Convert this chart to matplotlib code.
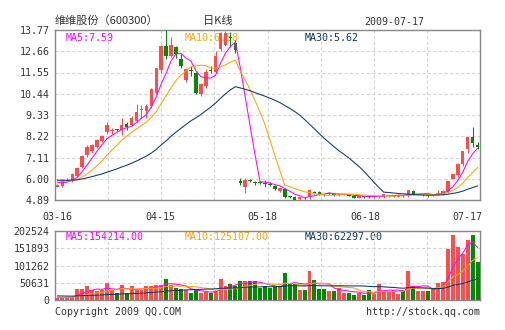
import numpy as np
import matplotlib
matplotlib.use("Agg")
import matplotlib.pyplot as plt

# daily candles 2009-03-16 .. 2009-07-17
opens = [5.57, 5.63, 5.90, 5.90, 6.12, 6.61, 7.22, 7.43, 7.68, 7.99,
         8.45, 8.50, 8.58, 8.55, 8.87, 8.80, 9.01, 9.60, 9.53, 9.79,
         10.46, 11.66, 12.94, 12.42, 12.90, 12.24, 11.14, 11.68, 11.54, 10.41,
         10.84, 11.66, 11.59, 12.77, 13.00, 13.38, 13.10, 5.90, 5.55, 5.91,
         5.83, 5.82, 5.76, 5.71, 5.61, 5.37, 5.45, 5.07, 5.06, 4.93,
         5.00, 5.03, 5.30, 5.32, 5.19, 5.18, 5.20, 5.15, 5.18, 5.20,
         5.10, 5.00, 5.06, 5.06, 5.03, 5.04, 5.03, 5.08, 5.10, 5.06,
         5.12, 5.08, 5.36, 5.18, 5.17, 5.16, 5.15, 5.18, 5.19, 5.31,
         6.00, 6.17, 6.78, 7.56, 8.20, 7.77]
highs = [5.72, 5.98, 6.03, 6.28, 6.59, 7.26, 7.75, 7.82, 8.06, 8.31,
         8.94, 8.66, 8.62, 9.18, 8.99, 9.29, 9.88, 9.85, 9.92, 10.75,
         11.80, 12.99, 13.76, 13.38, 12.94, 12.50, 11.77, 11.89, 11.56, 11.02,
         11.72, 11.89, 12.68, 13.64, 13.71, 13.68, 13.24, 6.03, 6.03, 5.97,
         5.88, 5.86, 5.91, 5.81, 5.66, 5.57, 5.50, 5.10, 5.09, 5.06,
         5.03, 5.44, 5.35, 5.35, 5.22, 5.30, 5.24, 5.22, 5.21, 5.22,
         5.12, 5.12, 5.10, 5.08, 5.12, 5.12, 5.20, 5.16, 5.14, 5.18,
         5.14, 5.42, 5.40, 5.22, 5.22, 5.20, 5.20, 5.40, 5.40, 5.90,
         6.25, 6.80, 7.47, 8.20, 8.69, 7.91]
lows = [5.55, 5.58, 5.85, 5.83, 6.08, 6.56, 7.12, 7.33, 7.61, 7.92,
        8.34, 8.34, 8.48, 8.27, 8.57, 8.76, 8.94, 9.18, 9.18, 9.70,
        10.41, 11.54, 12.24, 12.36, 12.33, 11.80, 11.07, 11.37, 10.44, 10.32,
        10.75, 11.54, 11.54, 12.68, 12.95, 12.90, 12.55, 5.69, 5.25, 5.82,
        5.66, 5.72, 5.57, 5.64, 5.40, 5.32, 5.00, 4.98, 4.88, 4.90,
        4.92, 4.96, 5.20, 5.15, 5.10, 5.15, 5.12, 5.12, 5.14, 5.08,
        4.98, 4.98, 5.00, 5.02, 5.00, 5.02, 5.00, 5.03, 5.05, 5.04,
        5.06, 5.06, 5.17, 5.14, 5.12, 5.04, 5.12, 5.16, 5.17, 5.28,
        5.98, 6.08, 6.64, 7.37, 7.65, 7.56]
closes = [5.69, 5.91, 5.96, 6.24, 6.54, 7.21, 7.66, 7.75, 8.03, 8.22,
          8.80, 8.52, 8.53, 8.80, 8.69, 9.18, 9.48, 9.63, 9.78, 10.70,
          11.77, 12.94, 12.42, 12.99, 12.50, 11.89, 11.72, 11.65, 10.46, 10.96,
          11.59, 11.63, 12.42, 13.59, 13.59, 13.33, 12.72, 5.76, 5.93, 5.88,
          5.80, 5.79, 5.73, 5.69, 5.44, 5.52, 5.06, 5.05, 4.90, 5.03,
          4.97, 5.40, 5.27, 5.20, 5.18, 5.26, 5.16, 5.20, 5.19, 5.10,
          5.00, 5.10, 5.05, 5.04, 5.10, 5.10, 5.18, 5.12, 5.11, 5.16,
          5.11, 5.39, 5.19, 5.19, 5.18, 5.14, 5.18, 5.26, 5.36, 5.88,
          6.23, 6.78, 7.44, 8.17, 7.86, 7.68]
volumes = [7000, 9000, 8000, 10000, 33000, 33000, 40000, 28000, 27000, 28000,
           51000, 30000, 21000, 45000, 21000, 42000, 28000, 28000, 42000, 42000,
           45000, 45000, 62000, 45000, 35000, 33000, 30000, 20000, 30000, 22000,
           24000, 20000, 25000, 62000, 40000, 48000, 42000, 56000, 56000, 56000,
           56000, 35000, 40000, 35000, 40000, 40000, 80000, 47000, 47000, 30000,
           30000, 85000, 59000, 33000, 33000, 25000, 25000, 35000, 22000, 22000,
           15000, 22000, 15000, 30000, 18000, 47000, 25000, 25000, 30000, 18000,
           28000, 85000, 42000, 25000, 27000, 25000, 35000, 50000, 52000, 150000,
           192000, 157000, 135000, 175000, 192000, 112000]

# closes / volumes before 03-16, only needed to start the moving averages
prev_closes = [5.92, 6.05, 6.10, 6.02, 5.88, 5.80, 5.86, 5.95, 6.08, 6.12,
               6.00, 5.90, 5.84, 5.93, 6.01, 5.97, 5.89, 5.82, 5.87, 5.95,
               6.02, 5.98, 5.91, 5.94, 5.96, 5.88, 5.80, 5.76, 5.83]
prev_volumes = [15000, 18000, 14000, 12000, 16000, 20000, 13000, 11000, 14000, 17000,
                12000, 10000, 15000, 13000, 16000, 12000, 11000, 14000, 10000, 13000,
                12000, 9000, 11000, 10000, 8000, 7000, 6000, 8000, 6000]

tick_labels = ["03-16", "04-15", "05-18", "06-18", "07-17"]
price_ticks = [4.89, 6.00, 7.11, 8.22, 9.33, 10.44, 11.55, 12.66, 13.77]
vol_ticks = [0, 50631, 101262, 151893, 202524]
vol_ma_text = {5: "154214.00", 10: "125107.00", 30: "62297.00"}

RED = "#ff4d4d"
GREEN = "#008a00"
MA_COLORS = {5: "#ff00ff", 10: "#ffa500", 30: "#0c3866"}
MA_X = {5: 0.024, 10: 0.306, 30: 0.588}
MONO = "DejaVu Sans Mono"
TXT = "#333333"


def moving_avg(prev, cur, n):
    full = np.concatenate([prev, cur])
    ma = np.convolve(full, np.ones(n) / n, mode="valid")
    return ma[-len(cur):]


o = np.array(opens)
h = np.array(highs)
l = np.array(lows)
c = np.array(closes)
v = np.array(volumes)
x = np.arange(len(c))
colors = np.where(c >= o, RED, GREEN)

fig = plt.figure(figsize=(5.05, 3.30), dpi=100)
ax = fig.add_axes([55 / 505, 1 - 200 / 330, 425 / 505, 170 / 330])
axv = fig.add_axes([55 / 505, 1 - 300 / 330, 425 / 505, 69 / 330])

for a in (ax, axv):
    a.set_xlim(-0.5, len(c) - 0.5)
    a.set_xticks(np.linspace(-0.5, len(c) - 0.5, 9)[1:-1], minor=True)
    a.grid(which="minor", axis="x", color="#d4d4d4", ls=(0, (3, 2)), lw=0.8, zorder=0)
    a.grid(which="major", axis="y", color="#d4d4d4", ls=(0, (3, 2)), lw=0.8, zorder=0)
    a.tick_params(which="both", length=0, labelcolor=TXT, labelsize=7.2, pad=4)
    for s in a.spines.values():
        s.set_color("#888888")
        s.set_linewidth(1)

# candles
ax.vlines(x, l, h, colors=colors, lw=0.75, zorder=3)
ax.bar(x, np.maximum(np.abs(c - o), 0.04), bottom=np.minimum(o, c),
       width=0.72, color=colors, lw=0, zorder=4)
for n in (5, 10, 30):
    ma = moving_avg(prev_closes, c, n)
    ax.plot(x, ma, color=MA_COLORS[n], lw=0.75, zorder=5)
    ax.text(MA_X[n], 0.955, f"MA{n}:{ma[-1]:.2f}", transform=ax.transAxes,
            color=MA_COLORS[n], fontsize=7.2, family=MONO, va="center", zorder=1)

ax.set_ylim(price_ticks[0], price_ticks[-1])
ax.set_yticks(price_ticks)
ax.set_yticklabels([f"{t:.2f}" for t in price_ticks], family=MONO)
ax.set_xticks(np.linspace(0, len(c) - 3, 5))
ax.set_xticklabels(tick_labels, family=MONO)
ax.tick_params(axis="x", pad=9)

# volume
axv.bar(x, v, width=0.8, color=colors, lw=0, zorder=3)
for n in (5, 10, 30):
    ma = moving_avg(prev_volumes, v, n)
    axv.plot(x, ma, color=MA_COLORS[n], lw=0.75, zorder=5)
    axv.text(MA_X[n], 0.915, f"MA{n}:{vol_ma_text[n]}", transform=axv.transAxes,
             color=MA_COLORS[n], fontsize=7.2, family=MONO, va="center", zorder=1)
axv.set_ylim(vol_ticks[0], vol_ticks[-1])
axv.set_yticks(vol_ticks)
axv.set_yticklabels([str(t) for t in vol_ticks], family=MONO)
axv.set_xticks([])

# header / footer texts
cjk = ["Noto Sans CJK SC", "DejaVu Sans"]
fig.text(55 / 505, 1 - 21 / 330, "维维股份（600300）", family=cjk, fontsize=8,
         color=TXT, va="center", ha="left")
fig.text(218 / 505, 1 - 21 / 330, "日K线", family=cjk, fontsize=8,
         color=TXT, va="center", ha="center")
fig.text(424 / 505, 1 - 22 / 330, "2009-07-17", family=MONO, fontsize=7.2,
         color=TXT, va="center", ha="right")
fig.text(55 / 505, 1 - 312 / 330, "Copyright 2009 QQ.COM", family=MONO,
         fontsize=7.2, color=TXT, va="center", ha="left")
fig.text(480 / 505, 1 - 312 / 330, "http://stock.qq.com", family=MONO,
         fontsize=7.2, color=TXT, va="center", ha="right")

fig.savefig("out.png", dpi=100, facecolor="white")
